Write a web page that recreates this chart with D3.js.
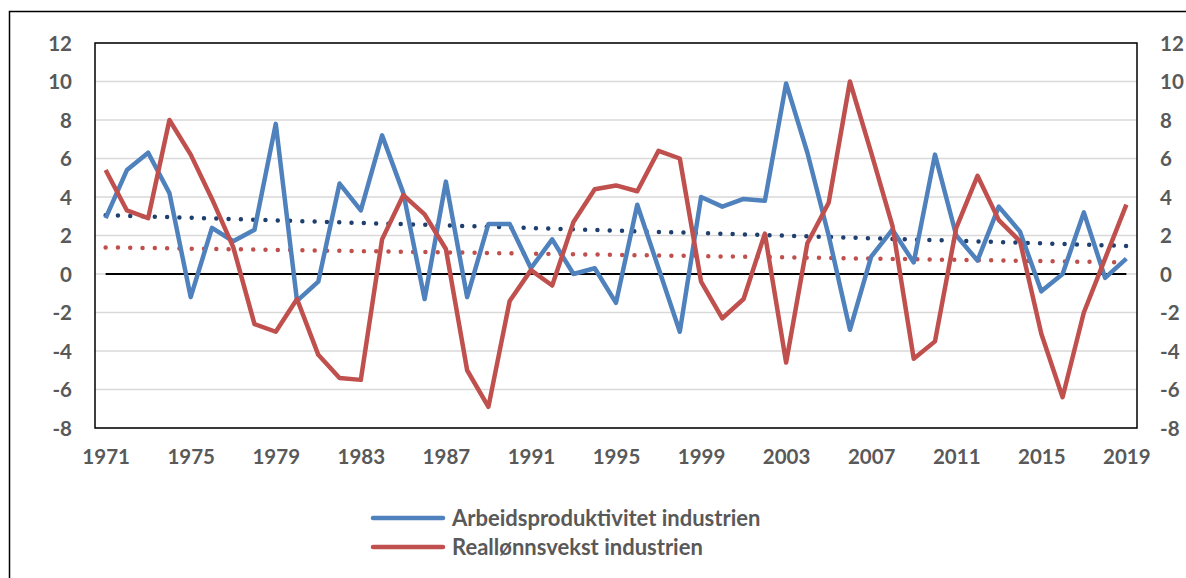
<!DOCTYPE html>
<html>
<head>
<meta charset="utf-8">
<script src="https://cdn.jsdelivr.net/npm/d3@7"></script>
<style>
  body { margin: 0; background: #fff; }
  text { font-family: Lato, "Open Sans", sans-serif; font-weight: bold; fill: #595959; }
</style>
</head>
<body>
<div id="chart"></div>
<script>
const years = d3.range(1971, 2020);

// Arbeidsproduktivitet industrien
const productivity = [
  2.9, 5.4, 6.3, 4.2, -1.2, 2.4, 1.7, 2.3, 7.8, -1.4,
  -0.4, 4.7, 3.3, 7.2, 4.2, -1.3, 4.8, -1.2, 2.6, 2.6,
  0.3, 1.8, 0.0, 0.3, -1.5, 3.6, 0.3, -3.0, 4.0, 3.5,
  3.9, 3.8, 9.9, 6.3, 2.0, -2.9, 0.9, 2.3, 0.6, 6.2,
  2.0, 0.7, 3.5, 2.2, -0.9, 0.0, 3.2, -0.2, 0.8
];

// Reallønnsvekst industrien
const realWages = [
  5.4, 3.3, 2.9, 8.0, 6.2, 3.9, 1.4, -2.6, -3.0, -1.3,
  -4.2, -5.4, -5.5, 1.8, 4.1, 3.1, 1.3, -5.0, -6.9, -1.4,
  0.2, -0.6, 2.7, 4.4, 4.6, 4.3, 6.4, 6.0, -0.4, -2.3,
  -1.3, 2.1, -4.6, 1.6, 3.7, 10.0, 6.3, 2.5, -4.4, -3.5,
  2.4, 5.1, 2.8, 1.7, -3.1, -6.4, -2.0, 0.8, 3.6
];

const yTicks = d3.range(-8, 13, 2);
const xTickYears = years.filter((y) => (y - 1971) % 4 === 0);

const series = [
  { name: 'Arbeidsproduktivitet industrien', values: productivity, color: '#4f81bd', trendColor: '#1f3f6e' },
  { name: 'Reallønnsvekst industrien', values: realWages, color: '#c0504d', trendColor: '#c0504d' }
];

const width = 1186;
const height = 578;
const plot = { left: 95, top: 43, right: 1137, bottom: 428 };

const svg = d3.select('#chart')
  .append('svg')
  .attr('width', width)
  .attr('height', height);

// outer chart frame (runs off the right and bottom edges)
svg.append('rect')
  .attr('x', 9.5)
  .attr('y', 11.5)
  .attr('width', 1190)
  .attr('height', 600)
  .attr('fill', 'none')
  .attr('stroke', '#000')
  .attr('stroke-width', 1.5);

const x = d3.scalePoint()
  .domain(years)
  .range([plot.left, plot.right])
  .padding(0.5);

const y = d3.scaleLinear()
  .domain([-8, 12])
  .range([plot.bottom, plot.top]);

// gridlines
svg.append('g')
  .selectAll('line')
  .data(yTicks)
  .join('line')
  .attr('x1', plot.left)
  .attr('x2', plot.right)
  .attr('y1', (d) => y(d))
  .attr('y2', (d) => y(d))
  .attr('stroke', '#d9d9d9')
  .attr('stroke-width', 1.3);

// plot border
svg.append('rect')
  .attr('x', plot.left)
  .attr('y', plot.top)
  .attr('width', plot.right - plot.left)
  .attr('height', plot.bottom - plot.top)
  .attr('fill', 'none')
  .attr('stroke', '#000')
  .attr('stroke-width', 1.5);

// left and right axes (plain hyphen for negatives, like the original)
const fmt = (d) => String(d);
const axisLeft = svg.append('g')
  .attr('transform', `translate(${plot.left - 23},0)`)
  .call(d3.axisLeft(y).tickValues(yTicks).tickFormat(fmt).tickSize(0).tickPadding(0));
const axisRight = svg.append('g')
  .attr('transform', `translate(${plot.right + 23},0)`)
  .call(d3.axisRight(y).tickValues(yTicks).tickFormat(fmt).tickSize(0).tickPadding(0));

[axisLeft, axisRight].forEach((g) => {
  g.select('.domain').remove();
  g.selectAll('text')
    .attr('font-size', 20.5)
    .attr('font-family', null)
    .attr('fill', null)
    .attr('dy', '0.36em');
});

// x axis labels
const axisBottom = svg.append('g')
  .attr('transform', `translate(0,${plot.bottom})`)
  .call(d3.axisBottom(x).tickValues(xTickYears).tickSize(0).tickPadding(21));
axisBottom.select('.domain').remove();
axisBottom.selectAll('text')
  .attr('font-size', 20.5)
  .attr('font-family', null)
  .attr('fill', null);

// zero line
svg.append('line')
  .attr('x1', x(years[0]))
  .attr('x2', x(years[years.length - 1]))
  .attr('y1', y(0))
  .attr('y2', y(0))
  .attr('stroke', '#000')
  .attr('stroke-width', 2);

// linear trend (least squares) for each series
function trend(values) {
  const n = values.length;
  const xs = d3.range(1, n + 1);
  const mx = d3.mean(xs);
  const my = d3.mean(values);
  const b = d3.sum(xs, (xi, i) => (xi - mx) * (values[i] - my)) / d3.sum(xs, (xi) => (xi - mx) ** 2);
  const a = my - b * mx;
  return [a + b * 1, a + b * n];
}

series.forEach((s) => {
  const [t0, t1] = trend(s.values);
  svg.append('line')
    .attr('x1', x(years[0]))
    .attr('x2', x(years[years.length - 1]))
    .attr('y1', y(t0))
    .attr('y2', y(t1))
    .attr('stroke', s.trendColor)
    .attr('stroke-width', 4.5)
    .attr('stroke-linecap', 'round')
    .attr('stroke-dasharray', '0 12.3');
});

const line = d3.line()
  .x((d, i) => x(years[i]))
  .y((d) => y(d));

series.forEach((s) => {
  svg.append('path')
    .datum(s.values)
    .attr('d', line)
    .attr('fill', 'none')
    .attr('stroke', s.color)
    .attr('stroke-width', 4.5)
    .attr('stroke-linejoin', 'round');
});

// legend
const legend = svg.append('g')
  .selectAll('g')
  .data(series)
  .join('g')
  .attr('transform', (d, i) => `translate(373,${518 + i * 29})`);

legend.append('line')
  .attr('x1', 0)
  .attr('x2', 70)
  .attr('stroke', (d) => d.color)
  .attr('stroke-width', 4.5)
  .attr('stroke-linecap', 'round');

legend.append('text')
  .attr('x', 79)
  .attr('dy', '0.36em')
  .attr('font-size', 22)
  .text((d) => d.name);
</script>
</body>
</html>
